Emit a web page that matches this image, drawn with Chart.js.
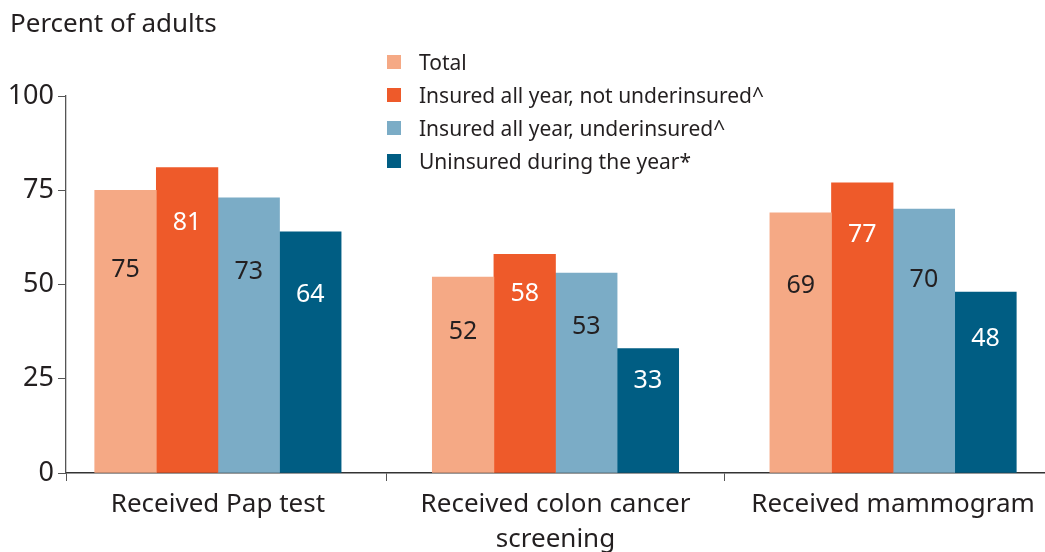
<!DOCTYPE html>
<html>
<head>
<meta charset="utf-8">
<title>Preventive care by insurance status</title>
<script src="https://cdn.jsdelivr.net/npm/chart.js@4.4.1/dist/chart.umd.min.js"></script>
<style>
    body { margin: 0; background: #fff; font-family: "Noto Sans", sans-serif; color: #231f20; }
    #wrap { position: relative; width: 1045px; height: 552px; }
    #title { position: absolute; left: 10px; top: 4px; font-size: 26px; }
    #legend { position: absolute; left: 387px; top: 45px; font-size: 21px; }
    .item { display: flex; align-items: center; height: 33px; }
    .swatch { width: 14px; height: 14px; margin-right: 18px; }
</style>
</head>
<body>
<div id="wrap">
    <canvas id="chart" width="1045" height="552"></canvas>
    <div id="title">Percent of adults</div>
    <div id="legend"></div>
</div>
<script>
const categories = [["Received Pap test"], ["Received colon cancer", "screening"], ["Received mammogram"]];
const seriesNames = [
    "Total",
    "Insured all year, not underinsured^",
    "Insured all year, underinsured^",
    "Uninsured during the year*"
];
const total = [75, 52, 69];
const insuredNotUnder = [81, 58, 77];
const insuredUnder = [73, 53, 70];
const uninsured = [64, 33, 48];
const yTicks = [0, 25, 50, 75, 100];

const colors = ["#f5a985", "#ee5a2a", "#7bacc6", "#005d83"];
const labelColors = ["#231f20", "#ffffff", "#231f20", "#ffffff"];
// how far up the bar the value label sits (fraction of the bar)
const labelAt = [0.72, 0.82, 0.73, 0.74];

const series = [total, insuredNotUnder, insuredUnder, uninsured];

// Legend
const legend = document.getElementById("legend");
seriesNames.forEach((name, i) => {
    const item = document.createElement("div");
    item.className = "item";
    item.innerHTML = `<span class="swatch" style="background:${colors[i]}"></span><span>${name}</span>`;
    legend.appendChild(item);
});

// Value labels inside the bars
const barLabels = {
    id: "barLabels",
    afterDatasetsDraw(chart) {
        const ctx = chart.ctx;
        const y = chart.scales.y;
        ctx.save();
        ctx.font = '25px "Noto Sans", sans-serif';
        ctx.textAlign = "center";
        ctx.textBaseline = "middle";
        chart.data.datasets.forEach((ds, di) => {
            chart.getDatasetMeta(di).data.forEach((bar, i) => {
                const v = ds.data[i].y;
                ctx.fillStyle = labelColors[di];
                ctx.fillText(v, bar.x, y.getPixelForValue(v * labelAt[di]));
            });
        });
        ctx.restore();
    }
};

new Chart(document.getElementById("chart"), {
    type: "bar",
    data: {
        datasets: series.map((values, i) => ({
            label: seriesNames[i],
            data: values.map((v, j) => ({ x: j, y: v })),
            backgroundColor: colors[i],
            borderWidth: 0,
            barThickness: 61.6
        }))
    },
    options: {
        responsive: false,
        animation: false,
        layout: { padding: { top: 96, left: 0, right: 0, bottom: 0 } },
        plugins: { legend: { display: false }, tooltip: { enabled: false } },
        scales: {
            x: {
                type: "linear",
                min: -0.45,
                max: 2.45,
                offset: false,
                afterBuildTicks: scale => {
                    scale.ticks = [-0.45, 0, 0.5, 1, 1.5, 2].map(v => ({ value: v }));
                },
                afterFit: scale => { scale.height = 79; },
                ticks: {
                    autoSkip: false,
                    maxRotation: 0,
                    padding: 6,
                    color: "#231f20",
                    font: { family: "Noto Sans", size: 26, lineHeight: 1.35 },
                    callback: v => Number.isInteger(v) ? categories[v] : ""
                },
                grid: {
                    offset: false,
                    drawOnChartArea: false,
                    tickLength: 8,
                    tickColor: ctx => Number.isInteger(ctx.tick && ctx.tick.value) ? "rgba(0,0,0,0)" : "#555"
                },
                border: { color: "#333", width: 1.5 }
            },
            y: {
                min: 0,
                max: 100,
                afterBuildTicks: scale => {
                    scale.ticks = yTicks.map(v => ({ value: v }));
                },
                afterFit: scale => { scale.width = 66; },
                ticks: {
                    padding: 4,
                    color: "#231f20",
                    font: { family: "Noto Sans", size: 27 }
                },
                grid: { drawOnChartArea: false, tickLength: 8, tickColor: "#555" },
                border: { color: "#555", width: 1.3 }
            }
        }
    },
    plugins: [barLabels]
});
</script>
</body>
</html>
